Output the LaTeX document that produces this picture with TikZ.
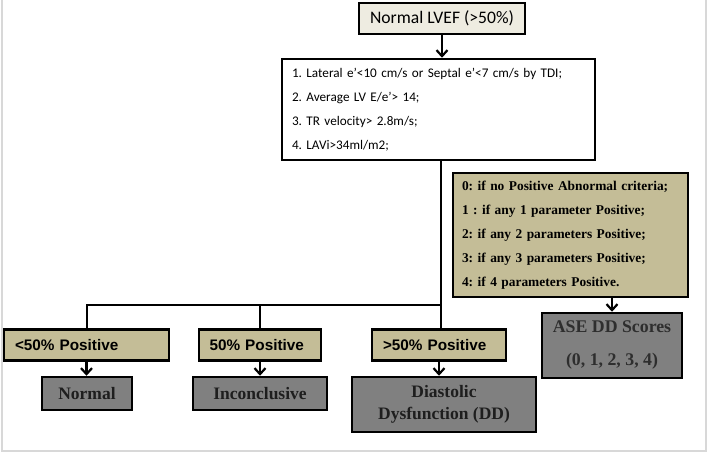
\documentclass[tikz,border=0pt]{standalone}
\usepackage{fontspec}
\setmainfont{Liberation Serif}
\newfontfamily\calibri{Carlito}
\newfontfamily\arial{Liberation Sans}
\usepackage{xcolor}
\usepackage{tikz}
\usetikzlibrary{arrows.meta, positioning, calc}
\definecolor{paleback}{HTML}{EEECE1}
\definecolor{tanfill}{HTML}{C4BD97}
\definecolor{greyfill}{HTML}{808080}
\definecolor{darktext}{HTML}{1E1E1E}
\definecolor{asetext}{HTML}{2E2E2E}
\definecolor{framegray}{HTML}{D8D8D8}
\AtBeginDocument{\frenchspacing}

\begin{document}
\begin{tikzpicture}[x=1pt, y=-1pt,
  topbox/.style={draw=black, line width=2.5pt, fill=paleback, inner sep=0pt,
              minimum width=166pt, minimum height=31pt,
              font=\calibri\fontsize{17.6}{21}\selectfont},
  critbox/.style={draw=black, line width=2.5pt, fill=white, inner sep=0pt,
              minimum width=313pt, minimum height=101pt,
              text width=293pt, align=left,
              font=\calibri\fontsize{13.2}{24}\selectfont},
  scorebox/.style={draw=black, line width=2.5pt, fill=tanfill, inner sep=0pt,
              minimum width=235pt, minimum height=124pt,
              text width=217pt, align=left,
              font=\bfseries\fontsize{13.4}{24}\selectfont},
  tanbox/.style={draw=black, line width=2.5pt, fill=tanfill, inner sep=0pt,
              minimum height=31pt, text width=#1, align=left,
              font=\arial\bfseries\fontsize{15.3}{18}\selectfont},
  greybox/.style={draw=black, line width=2.5pt, fill=greyfill, inner sep=0pt,
              minimum width=#1, minimum height=33pt, align=center,
              text=darktext, font=\bfseries\fontsize{17.5}{22}\selectfont},
  link/.style={line width=2pt, color=black},
  arr/.style={line width=2.2pt, color=black,
              -{Straight Barb[length=6pt, width=11pt]}}
]
  \useasboundingbox (0,0) rectangle (709,454);
  \draw[framegray, line width=1.5pt] (2,0) -- (2,451) -- (706,451) -- (706,0);

  % Top of the tree
  \node[topbox] (lvef) at (442,18.5) {Normal LVEF (>50\%)};
  \node[critbox] (crit) at (438.5,109.5)
    {1. Lateral e’<10 cm/s or Septal e’<7 cm/s by TDI;\\
     2. Average LV E/e’> 14;\\
     3. TR velocity> 2.8m/s;\\
     4. LAVi>34ml/m2;};
  \draw[arr] (lvef.south) -- (lvef.south |- crit.north);

  % Scoring
  \node[scorebox] (score) at (570.5,235)
    {0: if no Positive Abnormal criteria;\\
     1 : if any 1 parameter Positive;\\
     2: if any 2 parameters Positive;\\
     3: if any 3 parameters Positive;\\
     4: if 4 parameters Positive.};
  \node[greybox=140pt, minimum height=65pt, text=asetext,
        font=\bfseries\fontsize{17.8}{33}\selectfont] (ase) at (612,345.5)
    {ASE DD Scores\\(0, 1, 2, 3, 4)};
  \draw[arr] (ase.north |- score.south) -- (ase.north);

  % Branches
  \node[tanbox=143pt, minimum width=165pt] (few) at (86.5,345) {<50\% Positive};
  \node[tanbox=101pt, minimum width=122pt] (half) at (260,345) {50\% Positive};
  \node[tanbox=112pt, minimum width=134pt] (many) at (439,345) {>50\% Positive};

  \coordinate (hub) at (441,305);
  \draw[link] (hub |- crit.south) -- (hub |- many.north);
  \draw[link] (few.north) |- (hub);
  \draw[link] (half.north) -- (half.north |- hub);

  % Outcomes
  \node[greybox=90pt] (normal) at (87,393.5) {Normal};
  \node[greybox=134pt] (incon) at (260,393.5) {Inconclusive};
  \node[greybox=184pt, minimum height=55pt] (dd) at (444,404.5)
    {Diastolic\\Dysfunction (DD)};

  \draw[arr] (few.south) -- (few.south |- normal.north);
  \draw[arr] (half.south) -- (half.south |- incon.north);
  \draw[arr] (many.south) -- (many.south |- dd.north);
\end{tikzpicture}
\end{document}
